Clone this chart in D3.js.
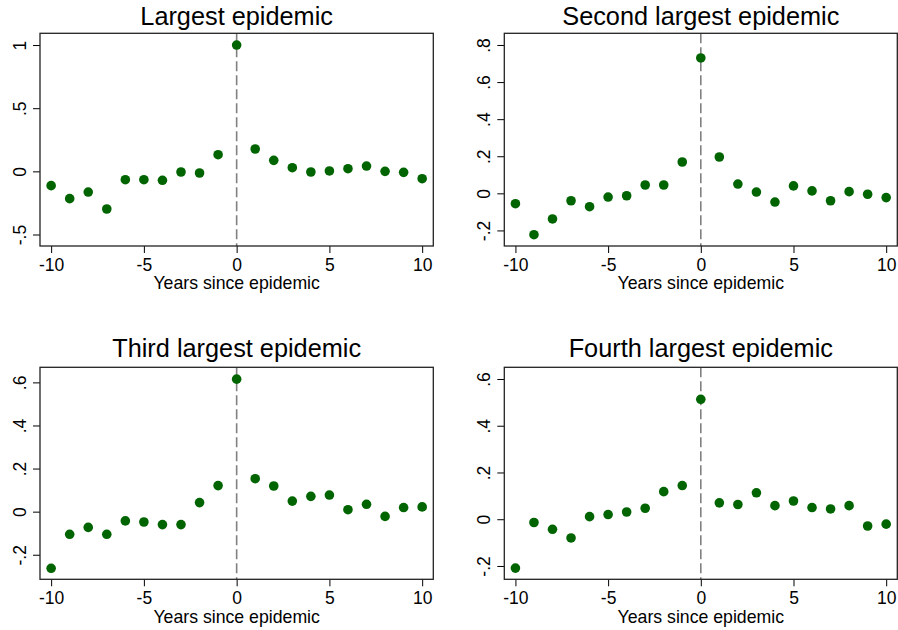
<!DOCTYPE html>
<html>
<head>
<meta charset="utf-8">
<script src="https://cdn.jsdelivr.net/npm/d3@7"></script>
<style>
  body { margin: 0; background: #fff; }
  svg { display: block; font-family: "Liberation Sans", Arial, Helvetica, sans-serif; }
</style>
</head>
<body>
<div class="chart"></div>
<script>
const years = [-10, -9, -8, -7, -6, -5, -4, -3, -2, -1, 0, 1, 2, 3, 4, 5, 6, 7, 8, 9, 10];
const xTicks = [-10, -5, 0, 5, 10];

const largest = [-0.113, -0.216, -0.164, -0.298, -0.066, -0.066, -0.071, -0.005, -0.013, 0.132, 1.0,
  0.177, 0.087, 0.029, -0.005, 0.003, 0.021, 0.042, 0.0, -0.008, -0.058];
const second = [-0.056, -0.223, -0.138, -0.040, -0.072, -0.020, -0.013, 0.045, 0.045, 0.169, 0.730,
  0.196, 0.050, 0.007, -0.047, 0.040, 0.013, -0.040, 0.009, -0.005, -0.023];
const third = [-0.263, -0.105, -0.073, -0.105, -0.043, -0.048, -0.060, -0.060, 0.042, 0.121, 0.615,
  0.153, 0.119, 0.049, 0.071, 0.077, 0.009, 0.034, -0.022, 0.019, 0.022];
const fourth = [-0.209, -0.014, -0.043, -0.080, 0.011, 0.020, 0.031, 0.047, 0.118, 0.144, 0.513,
  0.070, 0.063, 0.113, 0.058, 0.078, 0.050, 0.044, 0.058, -0.029, -0.021];

const titles = ["Largest epidemic", "Second largest epidemic", "Third largest epidemic", "Fourth largest epidemic"];
const yTicks1 = [-0.5, 0, 0.5, 1];
const yTicks2 = [-0.2, 0, 0.2, 0.4, 0.6, 0.8];
const yTicks3 = [-0.2, 0, 0.2, 0.4, 0.6];
const yTicks4 = [-0.2, 0, 0.2, 0.4, 0.6];

const W = 898, H = 630;
const svg = d3.select(".chart").append("svg")
  .attr("width", W)
  .attr("height", H);

// stata style labels: .5 instead of 0.5, plain hyphen for minus
const fmt = d => d === 0 ? "0" : String(+d.toFixed(2)).replace("0.", ".");

const panels = [
  { title: titles[0], values: largest, ticks: yTicks1, dom: [-0.591, 1.093], box: [40, 33.3, 433.3, 246], tb: 25 },
  { title: titles[1], values: second, ticks: yTicks2, dom: [-0.284, 0.863], box: [504.3, 33.3, 897.3, 246], tb: 25 },
  { title: titles[2], values: third, ticks: yTicks3, dom: [-0.314, 0.670], box: [40, 367.3, 433.3, 579.3], tb: 357 },
  { title: titles[3], values: fourth, ticks: yTicks4, dom: [-0.257, 0.650], box: [504.3, 367.3, 897.3, 579.3], tb: 357 }
];

panels.forEach(p => {
  const [l, t, r, b] = p.box;
  const width = r - l, height = b - t;

  const x = d3.scaleLinear().domain([-10.6, 10.6]).range([0, width]);
  const y = d3.scaleLinear().domain(p.dom).range([height, 0]);

  const g = svg.append("g").attr("transform", "translate(" + l + "," + t + ")");

  g.append("text")
    .attr("x", width / 2)
    .attr("y", p.tb - t)
    .attr("text-anchor", "middle")
    .style("font-size", "25.3px")
    .text(p.title);

  // x axis
  const xa = g.append("g")
    .attr("transform", "translate(0," + height + ")")
    .call(d3.axisBottom(x).tickValues(xTicks).tickSize(7).tickSizeOuter(0).tickFormat(d => String(d)));
  xa.select(".domain").remove();
  xa.selectAll("line").attr("stroke", "#000").attr("stroke-width", 1);
  xa.selectAll("text")
    .attr("y", 25)
    .attr("dy", 0)
    .attr("fill", "#000")
    .style("font-size", "17.5px");

  g.append("text")
    .attr("x", x(0))
    .attr("y", height + 43.5)
    .attr("text-anchor", "middle")
    .style("font-size", "17.7px")
    .text("Years since epidemic");

  // y axis
  const ya = g.append("g")
    .call(d3.axisLeft(y).tickValues(p.ticks).tickSize(7).tickSizeOuter(0).tickFormat(fmt));
  ya.select(".domain").remove();
  ya.selectAll("line").attr("stroke", "#000").attr("stroke-width", 1);
  ya.selectAll("text")
    .attr("x", 0)
    .attr("dy", 0)
    .attr("text-anchor", "middle")
    .attr("transform", "translate(-14.5,0) rotate(-90)")
    .attr("fill", "#000")
    .style("font-size", "17.5px");

  // reference line at year 0
  g.append("line")
    .attr("x1", x(0)).attr("x2", x(0))
    .attr("y1", 0).attr("y2", height)
    .attr("stroke", "#808080")
    .attr("stroke-width", 1.6)
    .attr("stroke-dasharray", "10,4");

  g.append("g")
    .selectAll("circle")
    .data(years.map((yr, i) => ({ x: yr, y: p.values[i] })))
    .enter().append("circle")
    .attr("cx", d => x(d.x))
    .attr("cy", d => y(d.y))
    .attr("r", 4.8)
    .attr("fill", "#006400");

  g.append("rect")
    .attr("x", 0).attr("y", 0)
    .attr("width", width).attr("height", height)
    .attr("fill", "none")
    .attr("stroke", "#222")
    .attr("stroke-width", 1.3);
});
</script>
</body>
</html>
